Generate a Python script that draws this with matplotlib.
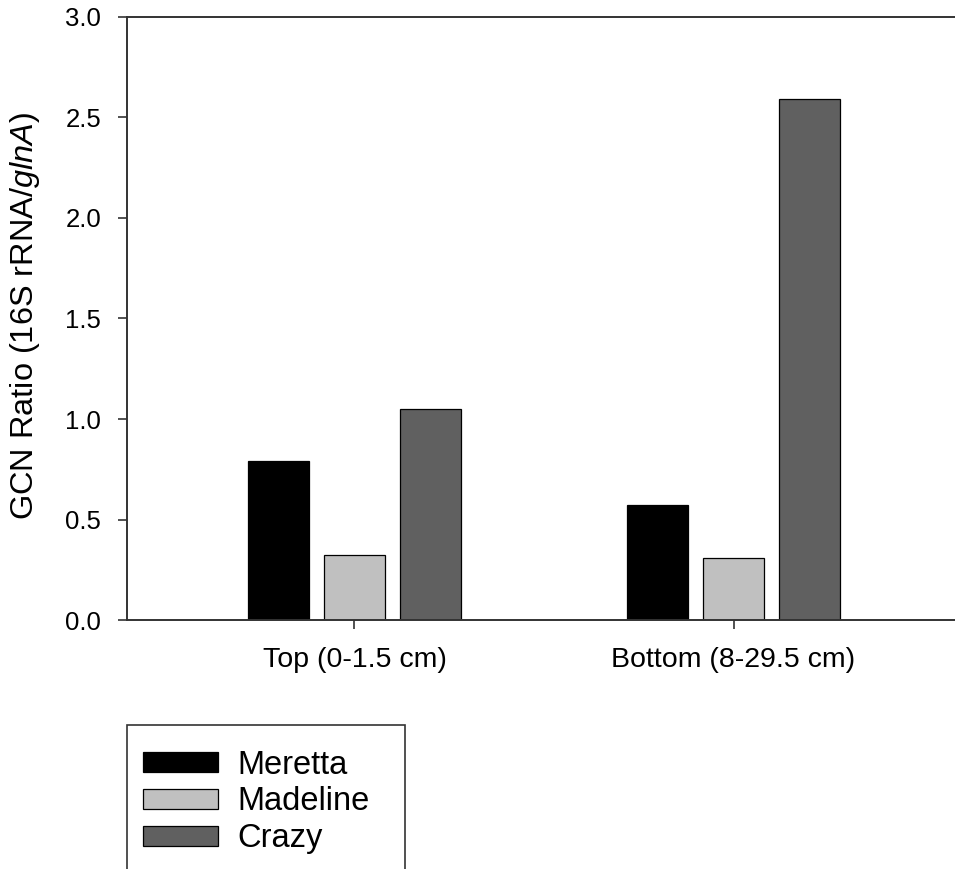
import numpy as np
import matplotlib
matplotlib.use("Agg")
import matplotlib.pyplot as plt
from matplotlib.patches import Rectangle

plt.rcParams['font.family'] = ['Liberation Sans', 'DejaVu Sans']
plt.rcParams['mathtext.fontset'] = 'custom'
plt.rcParams['mathtext.rm'] = 'Liberation Sans'
plt.rcParams['mathtext.it'] = 'Liberation Sans:italic'

# depth groups and GCN ratio per lake
groups = ['Top (0-1.5 cm)', 'Bottom (8-29.5 cm)']
lakes = ['Meretta', 'Madeline', 'Crazy']
meretta = [0.79, 0.57]
madeline = [0.325, 0.307]
crazy = [1.048, 2.592]
colors = ['#000000', '#c0c0c0', '#606060']

W, H = 955, 869
fig = plt.figure(figsize=(W / 100, H / 100), dpi=100)
ax = fig.add_axes([0.133, 0.2865, 0.8733, 0.694])

x = np.arange(1, len(groups) + 1)
width = 0.16
step = 0.2
for i, (vals, name) in enumerate(zip([meretta, madeline, crazy], lakes)):
    ax.bar(x + (i - 1) * step, vals, width, color=colors[i], edgecolor='black',
           linewidth=0.9, label=name)

ax.set_xlim(0.4, 2.6)
ax.set_ylim(0, 3.0)
ax.set_yticks(np.arange(0, 3.01, 0.5))
ax.set_yticklabels([f'{v:.1f}' for v in np.arange(0, 3.01, 0.5)])
ax.set_xticks(x)
ax.set_xticklabels(groups)

ax.tick_params(axis='y', direction='out', length=6.5, width=1.2, color='#333333',
               labelsize=18.5, pad=12)
ax.tick_params(axis='x', direction='out', length=6.5, width=1.2, color='#333333',
               labelsize=20.5, pad=13)

for side in ['left', 'bottom', 'top']:
    ax.spines[side].set_linewidth(1.4)
    ax.spines[side].set_color('#333333')
ax.spines['right'].set_visible(False)

ax.set_ylabel('GCN Ratio (16S rRNA/$\\mathit{glnA}$)', fontsize=23.4)
ax.yaxis.set_label_coords(-0.102, 0.505)

# legend entries without their own frame; box drawn separately below
leg = ax.legend(loc='upper left', bbox_to_anchor=(143 / W, 1 - 749.6 / H),
                bbox_transform=fig.transFigure, fontsize=23.5,
                handlelength=2.3, handleheight=0.58, handletextpad=0.58,
                labelspacing=0.18, borderpad=0, borderaxespad=0, frameon=False)

box = Rectangle((127 / W, -0.05), (405 - 127) / W, 1 - 725 / H + 0.05,
                transform=fig.transFigure, fill=False, edgecolor='#333333',
                linewidth=1.2, clip_on=False)
fig.add_artist(box)

fig.savefig('out.png', dpi=100)
